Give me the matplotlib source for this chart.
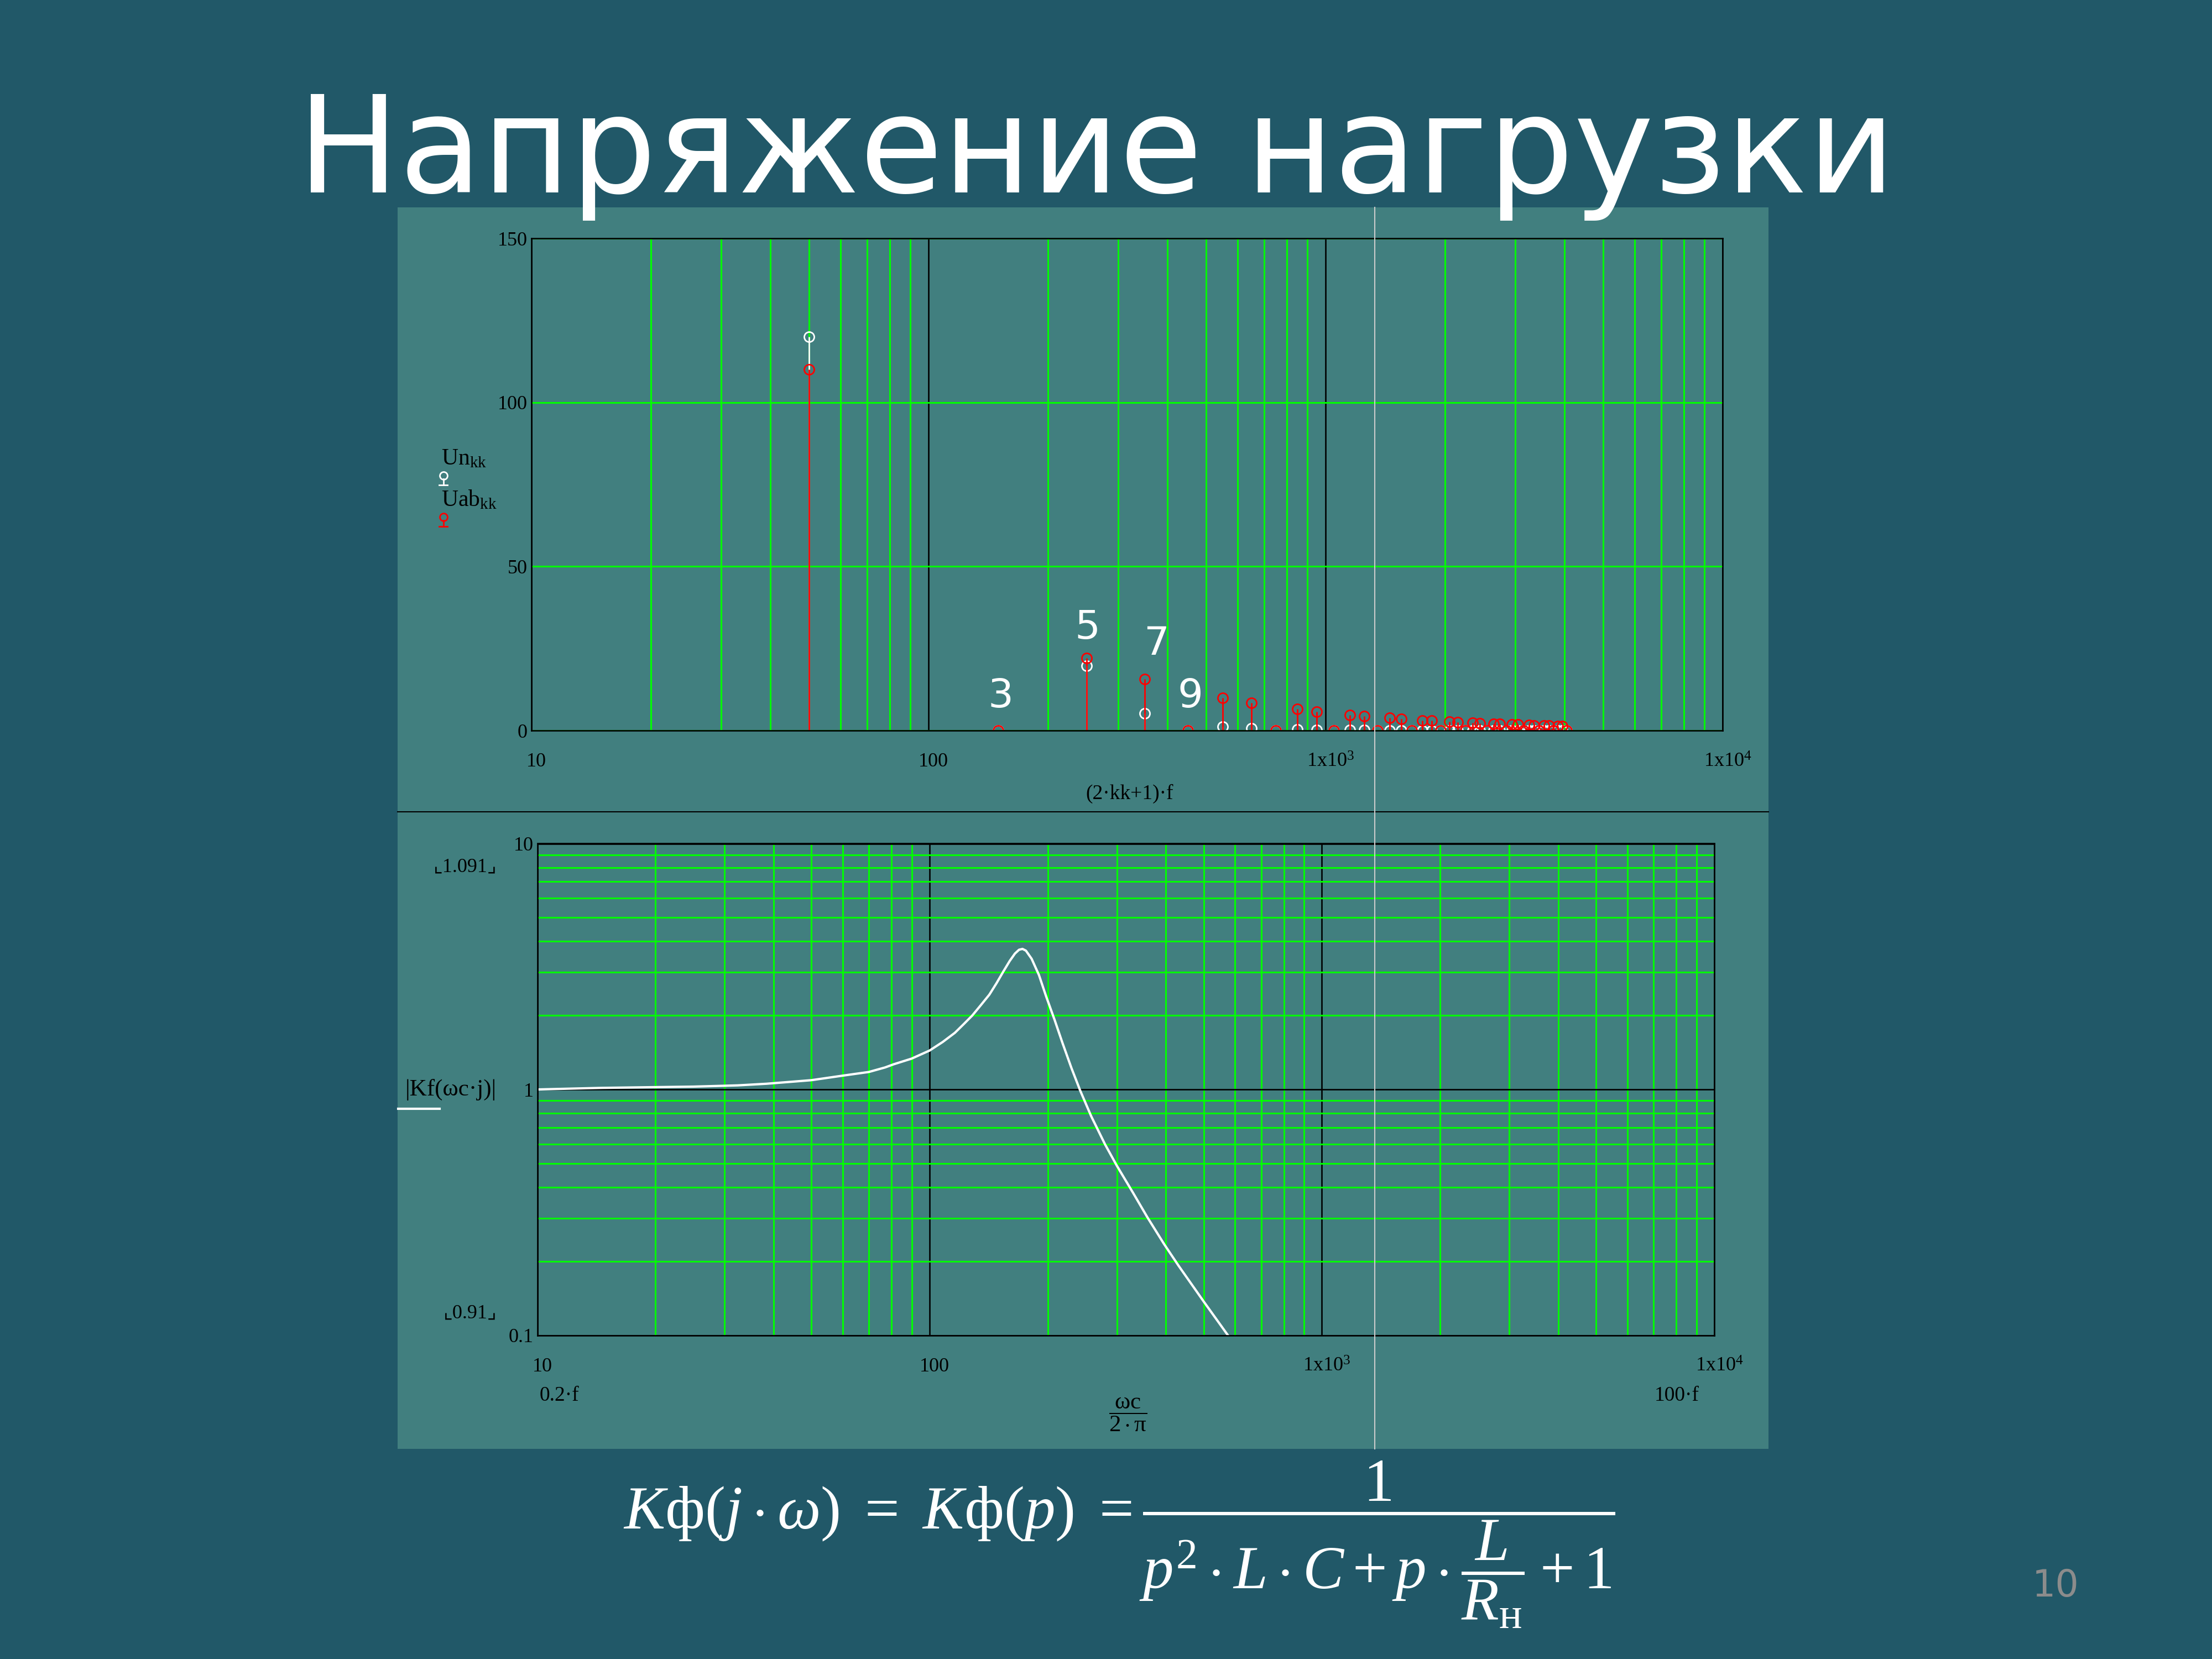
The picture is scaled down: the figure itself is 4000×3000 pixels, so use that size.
import numpy as np
import matplotlib
matplotlib.use('Agg')
import matplotlib.pyplot as plt
from matplotlib.ticker import LogLocator, NullFormatter, FixedLocator
from matplotlib.lines import Line2D
from matplotlib.patches import Rectangle
from matplotlib.transforms import ScaledTranslation

plt.rcParams['mathtext.fontset'] = 'custom'
plt.rcParams['mathtext.rm'] = 'Liberation Serif'
plt.rcParams['mathtext.it'] = 'Liberation Serif:italic'
plt.rcParams['mathtext.bf'] = 'Liberation Serif:bold'

# ---------------- data ----------------
title = 'Напряжение нагрузки'

# harmonic frequencies (2*kk+1)*f, f = 50 Hz, kk = 0..40
harm_freq = [50, 150, 250, 350, 450, 550, 650, 750, 850, 950,
             1050, 1150, 1250, 1350, 1450, 1550, 1650, 1750, 1850, 1950,
             2050, 2150, 2250, 2350, 2450, 2550, 2650, 2750, 2850, 2950,
             3050, 3150, 3250, 3350, 3450, 3550, 3650, 3750, 3850, 3950, 4050]
Uab = [110, 0, 22, 15.7, 0, 10, 8.5, 0, 6.5, 5.8,
       0, 4.8, 4.4, 0, 3.8, 3.5, 0, 3.1, 3.0, 0,
       2.7, 2.6, 0, 2.3, 2.2, 0, 2.1, 2.0, 0, 1.9,
       1.8, 0, 1.7, 1.6, 0, 1.5, 1.5, 0, 1.4, 1.4, 0]
Un = [120, 0, 19.8, 5.2, 0, 1.1, 0.65, 0, 0.28, 0.2,
      0, 0.12, 0.1, 0, 0.06, 0.05, 0, 0.04, 0.03, 0,
      0.03, 0.02, 0, 0.02, 0.02, 0, 0.01, 0.01, 0, 0.01,
      0.01, 0, 0.01, 0.01, 0, 0.01, 0.01, 0, 0.01, 0.01, 0]

harm_labels = ['3', '5', '7', '9']
harm_label_x = [152, 251, 375, 456]
harm_label_y = [10.3, 31.3, 26.3, 10.3]

top_xticks = [10, 100, 1000, 10000]
top_xticklabels = ['10', '100', r'$\mathregular{1x10^{3}}$', r'$\mathregular{1x10^{4}}$']
top_yticks = [0, 50, 100, 150]
top_yticklabels = ['0', '50', '100', '150']

# |Kf(wc*j)|
kf_freq = [10, 14.6, 25, 32.4, 38.4, 50, 60, 70, 77, 81, 90, 100, 108, 116,
           122, 128.5, 135, 142, 148, 154, 160, 165, 169, 172.5, 176, 182,
           190, 198, 208, 218, 230, 242, 258, 280, 300, 330, 359, 396, 431,
           500, 576]
kf_gain = [1.0, 1.015, 1.027, 1.039, 1.055, 1.091, 1.138, 1.178, 1.229, 1.266,
           1.335, 1.44, 1.56, 1.70, 1.84, 2.0, 2.2, 2.43, 2.7, 3.01, 3.33,
           3.57, 3.70, 3.73, 3.67, 3.40, 2.92, 2.40, 1.93, 1.55, 1.22, 0.99,
           0.78, 0.598, 0.49, 0.38, 0.302, 0.235, 0.192, 0.137, 0.1]

bot_yticks = [0.1, 1, 10]
bot_yticklabels = ['0.1', '1', '10']

# ---------------- style ----------------
BG = '#215868'
PANEL = '#417F7F'
GREEN = '#00FF00'
W, H = 4000.0, 3000.0
SERIF = 'Liberation Serif'
GLW = 2.2


def fx(px):
    return px / W


def fy(py):
    return 1 - py / H


fig = plt.figure(figsize=(40, 30), dpi=100, facecolor=BG)

# Mathcad panel
fig.add_artist(Rectangle((fx(719), fy(2620)), fx(3198) - fx(719), fy(375) - fy(2620),
                         transform=fig.transFigure, facecolor=PANEL,
                         edgecolor='none', zorder=-5))
fig.add_artist(Line2D([fx(719), fx(3198)], [fy(1468), fy(1468)], color='black',
                      lw=1.5, zorder=-4))

# title
fig.text(fx(1983), fy(348), title, ha='center', va='baseline', color='white',
         fontsize=176, family='DejaVu Sans')


def style_log_x(ax):
    ax.set_xscale('log')
    ax.set_xlim(10, 1e4)
    ax.xaxis.set_major_locator(FixedLocator(top_xticks))
    ax.xaxis.set_minor_locator(LogLocator(base=10, subs=np.arange(2, 10)))
    ax.xaxis.set_minor_formatter(NullFormatter())
    ax.set_xticklabels(top_xticklabels)
    for sp in ax.spines.values():
        sp.set_color('black')
        sp.set_linewidth(1.9)
        sp.set_zorder(10)
    ax.set_facecolor('none')
    ax.set_axisbelow(True)
    ax.tick_params(axis='both', which='both', length=0, labelsize=26,
                   labelcolor='black')
    ax.tick_params(axis='x', pad=29)
    ax.tick_params(axis='y', pad=5)
    for lbl in ax.get_xticklabels() + ax.get_yticklabels():
        lbl.set_family(SERIF)
    off = ScaledTranslation(0.09, 0, fig.dpi_scale_trans)
    for lbl in ax.get_xticklabels():
        lbl.set_transform(lbl.get_transform() + off)
    ax.xaxis.grid(True, which='major', color='black', lw=1.9)
    ax.xaxis.grid(True, which='minor', color=GREEN, lw=GLW)


# ---------------- top chart ----------------
ax1 = fig.add_axes([fx(961), fy(1321), fx(3115) - fx(961), fy(431) - fy(1321)])
ax1.set_ylim(0, 150)
ax1.set_yticks(top_yticks)
ax1.set_yticklabels(top_yticklabels)
style_log_x(ax1)
ax1.yaxis.grid(True, which='major', color=GREEN, lw=GLW)

ax1.vlines(harm_freq, 0, Un, color='white', lw=2.0, zorder=3)
ax1.plot(harm_freq, Un, 'o', ms=13, mfc='none', mec='white', mew=2.0, zorder=3.1)
ax1.vlines(harm_freq, 0, Uab, color='red', lw=2.0, zorder=3.2)
ax1.plot(harm_freq, Uab, 'o', ms=13, mfc='none', mec='red', mew=2.0, zorder=3.3)

for s, x, y in zip(harm_labels, harm_label_x, harm_label_y):
    ax1.text(x, y, s, color='white', fontsize=52, ha='center', va='center',
             family='DejaVu Sans', zorder=6)

fig.text(fx(2043), fy(1435), '(2·kk+1)·f', ha='center', va='center',
         fontsize=27, family=SERIF, color='black')

# legend of the top chart
fig.text(fx(798), fy(840), r'$\mathregular{Un_{kk}}$', ha='left', va='baseline',
         fontsize=30, family=SERIF, color='black')
fig.text(fx(798), fy(915), r'$\mathregular{Uab_{kk}}$', ha='left', va='baseline',
         fontsize=30, family=SERIF, color='black')
for col, yc in [('white', 860), ('red', 935)]:
    fig.add_artist(Line2D([fx(801.7), fx(801.7)], [fy(yc + 6), fy(yc + 17)],
                          color=col, lw=2.0))
    fig.add_artist(Line2D([fx(794), fx(809)], [fy(yc + 17), fy(yc + 17)],
                          color=col, lw=2.0))
    fig.add_artist(Line2D([fx(801.7)], [fy(yc)], marker='o', ms=10, mfc='none',
                          mec=col, mew=2.0, lw=0))

# ---------------- bottom chart ----------------
ax2 = fig.add_axes([fx(971.5), fy(2414.7), fx(3100) - fx(971.5), fy(1525.5) - fy(2414.7)])
ax2.set_yscale('log')
ax2.set_ylim(0.1, 10)
ax2.yaxis.set_major_locator(FixedLocator(bot_yticks))
ax2.yaxis.set_minor_locator(LogLocator(base=10, subs=np.arange(2, 10)))
ax2.yaxis.set_minor_formatter(NullFormatter())
ax2.set_yticklabels(bot_yticklabels)
style_log_x(ax2)
ax2.yaxis.grid(True, which='major', color='black', lw=1.9)
ax2.yaxis.grid(True, which='minor', color=GREEN, lw=GLW)

ax2.plot(kf_freq, kf_gain, color='white', lw=3, zorder=4, solid_joinstyle='round')

fig.text(fx(815), fy(1970), '|Kf(ωc·j)|', ha='center', va='center',
         fontsize=31, family=SERIF, color='black')
fig.add_artist(Line2D([fx(720), fx(795)], [fy(2004.6), fy(2004.6)], color='white', lw=3))
fig.text(fx(899), fy(1568), '⌞1.091⌟', ha='right', va='center', fontsize=26,
         family=[SERIF, 'DejaVu Sans'], color='black')
fig.text(fx(899), fy(2375), '⌞0.91⌟', ha='right', va='center', fontsize=26,
         family=[SERIF, 'DejaVu Sans'], color='black')

fig.text(fx(976), fy(2524), '0.2·f', ha='left', va='center', fontsize=27,
         family=SERIF, color='black')
fig.text(fx(3073), fy(2524), '100·f', ha='right', va='center', fontsize=27,
         family=SERIF, color='black')
fig.text(fx(2040), fy(2558), r'$\dfrac{\mathrm{\omega c}}{\mathrm{2\cdot\pi}}$',
         ha='center', va='center', fontsize=31, family=SERIF, color='black')

# cursor line crossing both charts
fig.add_artist(Line2D([fx(2486), fx(2486)], [fy(375), fy(2620)], color='#CCCCCC',
                      lw=1.5, zorder=20))

# formula
fig.text(fx(2024), fy(2793),
         r'$K\mathrm{ф}(j\cdot\omega)\ =\ K\mathrm{ф}(p)\ = '
         r'\dfrac{1}{p^{2}\cdot L\cdot C + p\cdot\dfrac{L}{R_{\mathrm{н}}} + 1}$',
         ha='center', va='center', fontsize=80, color='white')

# page number
fig.text(fx(3717), fy(2887), '10', ha='center', va='baseline', fontsize=48,
         color='#8C8C8C', family='DejaVu Sans')

fig.savefig('out.png', dpi=100, facecolor=BG)
